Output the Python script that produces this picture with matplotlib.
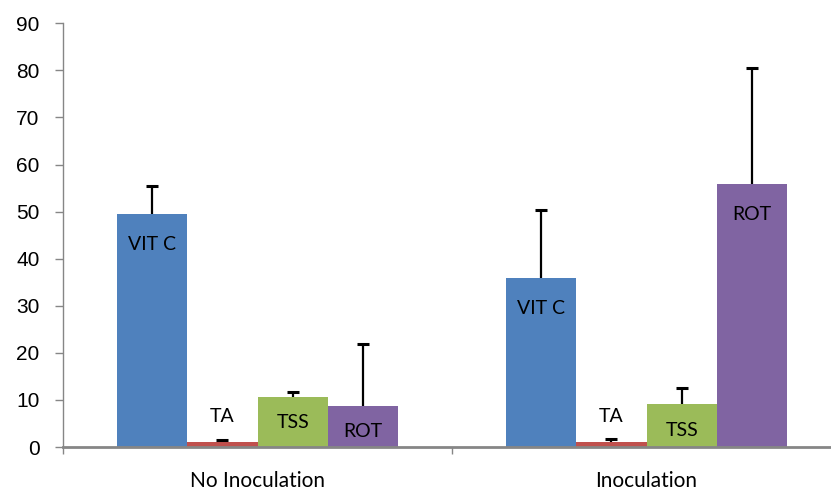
import numpy as np
import matplotlib.pyplot as plt

# data
groups = ['No Inoculation', 'Inoculation']
series = ['VIT C', 'TA', 'TSS', 'ROT']
values = {
    'VIT C': [49.5, 35.9],
    'TA': [1.0, 1.0],
    'TSS': [10.6, 9.1],
    'ROT': [8.7, 55.9],
}
errors = {
    'VIT C': [5.9, 14.4],
    'TA': [0.4, 0.6],
    'TSS': [1.0, 3.4],
    'ROT': [13.1, 24.5],
}
colors = ['#4F81BD', '#C0504D', '#9BBB59', '#8064A2']

W, H = 831, 494
fig = plt.figure(figsize=(W / 100, H / 100), dpi=100)
ax = fig.add_axes([63 / W, 47 / H, (841 - 63) / W, (447 - 23.3) / H])

bar_w = 0.181
x = np.arange(len(groups)) + 0.5
axis_col = '#868686'

for i, name in enumerate(series):
    pos = x + (i - 1.5) * bar_w
    vals = values[name]
    ax.bar(pos, vals, bar_w, color=colors[i], zorder=2)
    _, caps, _ = ax.errorbar(pos, vals, yerr=[np.zeros(len(vals)), errors[name]],
                             fmt='none', ecolor='black', elinewidth=1.6,
                             capsize=4.5, capthick=2.2, zorder=3)
    # only the upper cap is shown
    for c in caps:
        if np.allclose(c.get_ydata(), vals):
            c.set_visible(False)
    for p, v in zip(pos, vals):
        if name == 'TA':
            ly = 6.5
        elif v > 20:
            ly = v - 6.5
        else:
            ly = v - 5.5
        ax.text(p, ly, name, ha='center', va='center', fontsize=14,
                family='Lato', color='black', zorder=4)

ax.set_xlim(0, 2)
ax.set_ylim(0, 90)
ax.set_yticks(range(0, 91, 10))
ax.set_xticks([0, 1, 2])
ax.set_xticklabels([])
ax.set_xticks(x, minor=True)
ax.set_xticklabels(groups, minor=True, fontsize=15, family='Lato')

for s in ['top', 'right']:
    ax.spines[s].set_visible(False)
ax.spines['left'].set_color(axis_col)
ax.spines['bottom'].set_color(axis_col)
ax.spines['bottom'].set_linewidth(2)
ax.spines['left'].set_linewidth(1)

ax.tick_params(axis='y', direction='out', length=6, width=1, color=axis_col,
               labelsize=15, pad=11)
for lab in ax.get_yticklabels():
    lab.set_family('Liberation Sans')
ax.tick_params(axis='x', which='major', direction='out', length=5, width=1,
               color=axis_col)
ax.tick_params(axis='x', which='minor', length=0, pad=17)

plt.savefig('out.png', dpi=100)
